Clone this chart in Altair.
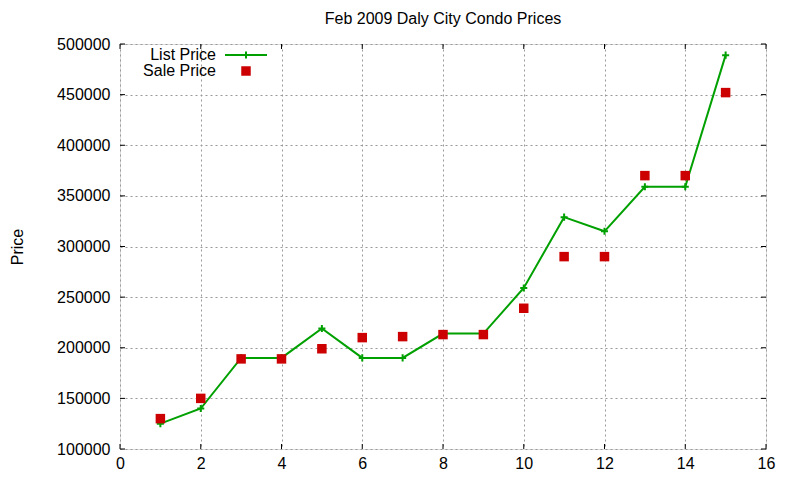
import altair as alt
import pandas as pd

x_vals = list(range(1, 16))
list_price = [125000, 140000, 190000, 190000, 219000, 190000, 190000, 214000,
              214000, 259000, 329000, 315000, 359000, 359000, 489000]
sale_price = [130000, 150000, 189000, 189000, 199000, 210000, 211000, 213000,
              213000, 239000, 290000, 290000, 370000, 370000, 452000]
x_ticks = [0, 2, 4, 6, 8, 10, 12, 14, 16]
y_ticks = [100000, 150000, 200000, 250000, 300000, 350000, 400000, 450000, 500000]
legend_labels = ["List Price", "Sale Price"]

GREEN = "#00a000"
RED = "#cc0000"
FONT = "Liberation Sans"
W, H = 646, 405

list_df = pd.DataFrame({"x": x_vals, "price": list_price})
sale_df = pd.DataFrame({"x": x_vals, "price": sale_price})
xt = pd.DataFrame({"x": x_ticks})
yt = pd.DataFrame({"price": y_ticks})

xscale = alt.Scale(domain=[0, 16], nice=False, zero=False)
yscale = alt.Scale(domain=[100000, 500000], nice=False, zero=False)

xaxis = alt.Axis(values=x_ticks, format="d", title=None, tickSize=0, labelPadding=6,
                 labelFlush=False,
                 grid=True, gridDash=[2, 3], gridColor="#999999", gridWidth=1,
                 labelFontSize=16, labelFont=FONT, labelColor="#000000",
                 domain=False)
yaxis = alt.Axis(values=y_ticks, format="d", title="Price", tickSize=0, labelPadding=10,
                 labelFlush=False,
                 grid=True, gridDash=[2, 3], gridColor="#999999", gridWidth=1,
                 labelFontSize=16, labelFont=FONT, labelColor="#000000",
                 titleFontSize=16, titleFont=FONT, titleFontWeight="normal",
                 titleColor="#000000", titleX=-103, titleY=H / 2,
                 titleAngle=270, titleAlign="center", titleBaseline="middle",
                 domain=False)

X = alt.X("x:Q", scale=xscale, axis=xaxis)
Y = alt.Y("price:Q", scale=yscale, axis=yaxis)

line = alt.Chart(list_df).mark_line(color=GREEN, strokeWidth=2).encode(x=X, y=Y)
crosses = alt.Chart(list_df).mark_point(shape="M-1,0H1M0,-1V1", size=50, color=GREEN,
                                        strokeWidth=2, filled=False, opacity=1).encode(
    x=alt.X("x:Q", scale=xscale), y=alt.Y("price:Q", scale=yscale))
squares = alt.Chart(sale_df).mark_square(size=90, color=RED, opacity=1).encode(
    x=alt.X("x:Q", scale=xscale), y=alt.Y("price:Q", scale=yscale))

# inward ticks
tick_b = alt.Chart(xt).mark_rule(color="black", strokeWidth=1).encode(
    x=alt.X("x:Q", scale=xscale), y=alt.value(H), y2=alt.value(H - 5))
tick_t = alt.Chart(xt).mark_rule(color="black", strokeWidth=1).encode(
    x=alt.X("x:Q", scale=xscale), y=alt.value(0), y2=alt.value(5))
tick_l = alt.Chart(yt).mark_rule(color="black", strokeWidth=1).encode(
    y=alt.Y("price:Q", scale=yscale), x=alt.value(0), x2=alt.value(5))
tick_r = alt.Chart(yt).mark_rule(color="black", strokeWidth=1).encode(
    y=alt.Y("price:Q", scale=yscale), x=alt.value(W), x2=alt.value(W - 5))

# legend (top-left inside)
leg_df = pd.DataFrame({"label": legend_labels})
leg_text1 = alt.Chart(leg_df.iloc[[0]]).mark_text(
    align="right", baseline="middle", fontSize=16, font=FONT, color="black").encode(
    text="label:N", x=alt.value(96), y=alt.value(11))
leg_text2 = alt.Chart(leg_df.iloc[[1]]).mark_text(
    align="right", baseline="middle", fontSize=16, font=FONT, color="black").encode(
    text="label:N", x=alt.value(96), y=alt.value(27))
leg_line = alt.Chart(leg_df.iloc[[0]]).mark_rule(color=GREEN, strokeWidth=2).encode(
    x=alt.value(105), x2=alt.value(147), y=alt.value(11))
leg_cross = alt.Chart(leg_df.iloc[[0]]).mark_point(
    shape="M-1,0H1M0,-1V1", size=50, color=GREEN, strokeWidth=2,
    filled=False, opacity=1).encode(x=alt.value(126), y=alt.value(11))
leg_sq = alt.Chart(leg_df.iloc[[1]]).mark_square(size=90, color=RED, opacity=1).encode(
    x=alt.value(126), y=alt.value(27))

chart = alt.layer(
    line, crosses, squares, tick_b, tick_t, tick_l, tick_r,
    leg_text1, leg_text2, leg_line, leg_cross, leg_sq
).properties(
    width=W, height=H,
    title=alt.TitleParams("Feb 2009 Daly City Condo Prices", fontSize=16, font=FONT,
                          fontWeight="normal", color="black", anchor="middle",
                          offset=9),
    autosize=alt.AutoSizeParams(type="none"),
    padding={"left": 112, "top": 36, "right": 20, "bottom": 30},
).configure_view(stroke="black", strokeWidth=1.5).configure(background="white")

chart.save("out.html", embed_options={"renderer": "svg", "actions": False})
